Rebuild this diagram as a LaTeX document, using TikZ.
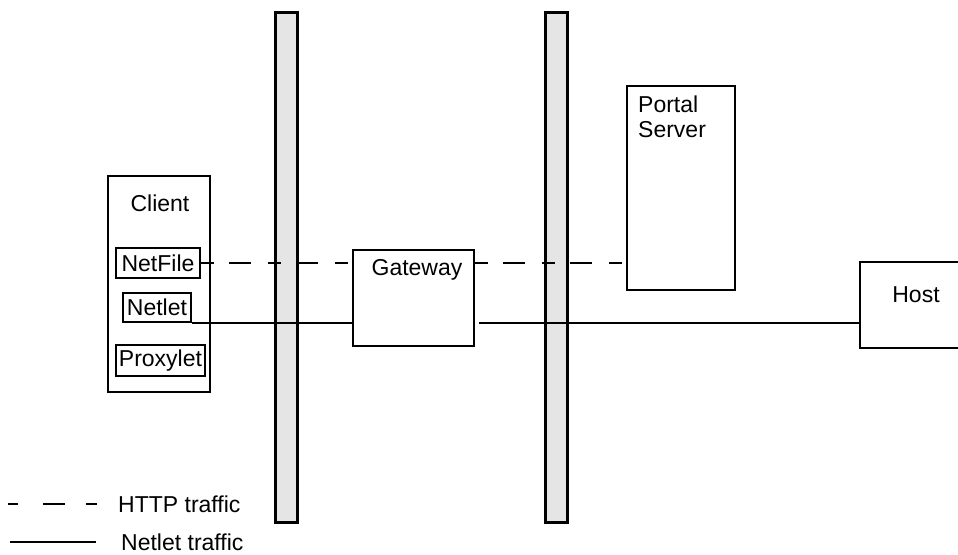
\documentclass[tikz,border=0pt]{standalone}
\usepackage{fontspec}
\setmainfont{Liberation Sans}
\usetikzlibrary{positioning}
\tikzset{
  box/.style={draw, line width=1.5pt, inner sep=0pt},
  wall/.style={draw, line width=2.5pt, fill=gray!20, minimum width=22pt, minimum height=510pt, inner sep=0pt},
  txt/.style={font=\fontsize{23}{25}\selectfont, inner sep=0pt},
  http/.style={line width=1.5pt, dash pattern=on 13pt off 15pt on 22pt off 17pt},
  netlet/.style={line width=1.5pt}
}

\begin{document}
\begin{tikzpicture}[x=1pt,y=-1pt]
                \useasboundingbox (0,0) rectangle (958,554);
                \node[wall] (wallA) at (286.5,267.5) {};
                \node[wall] (wallB) at (556.5,267.5) {};
                \node[box, minimum width=102pt, minimum height=216pt] (client) at (159,284) {};
                \node[txt] (clientlabel) at (160,203) {Client};
                \node[box, txt, minimum width=84pt, minimum height=30pt] (netfile) at (158,263) {NetFile};
                \node[box, txt, minimum width=68pt, minimum height=29pt] (netlet) at (157,307.5) {Netlet};
                \node[box, txt, minimum width=89pt, minimum height=31pt] (proxylet) at (160.5,360.5) {Proxylet};
                \node[box, minimum width=121pt, minimum height=96pt] (gw) at (413.5,298) {};
                \node[txt] (gwlabel) at (417,270) {Gateway};
                \node[box, minimum width=108pt, minimum height=204pt] (portal) at (681,188) {};
                \node[txt, anchor=north west, align=left] (portallabel) at (638,96) {Portal\\Server};
                \node[box, minimum width=110pt, minimum height=86pt] (host) at (915,305) {};
                \node[txt] (hostlabel) at (916,295) {Host};
                \draw[http] (netfile.east) -- (netfile.east -| gw.west);
                \draw[http] (gw.east |- netfile.east) -- (portal.west |- netfile.east);
                \draw[netlet] (netlet.south east) -- (netlet.south east -| gw.west);
                \draw[netlet] ([xshift=4pt]gw.east |- netlet.south east) -- (host.west |- netlet.south east);
                \coordinate (httpA) at (8,504);
                \coordinate (httpB) at (97,504);
                \coordinate (netA) at (10,542);
                \coordinate (netB) at (96,542);
                \draw[line width=1.5pt, dash pattern=on 10pt off 25pt on 22pt off 21pt on 11pt] (httpA) -- (httpB);
                \draw[netlet] (netA) -- (netB);
                \node[txt, anchor=west] (httplabel) at (118,504) {HTTP traffic};
                \node[txt, anchor=base west] (netlabel) at (121,550) {Netlet traffic};
            \end{tikzpicture}
\end{document}
